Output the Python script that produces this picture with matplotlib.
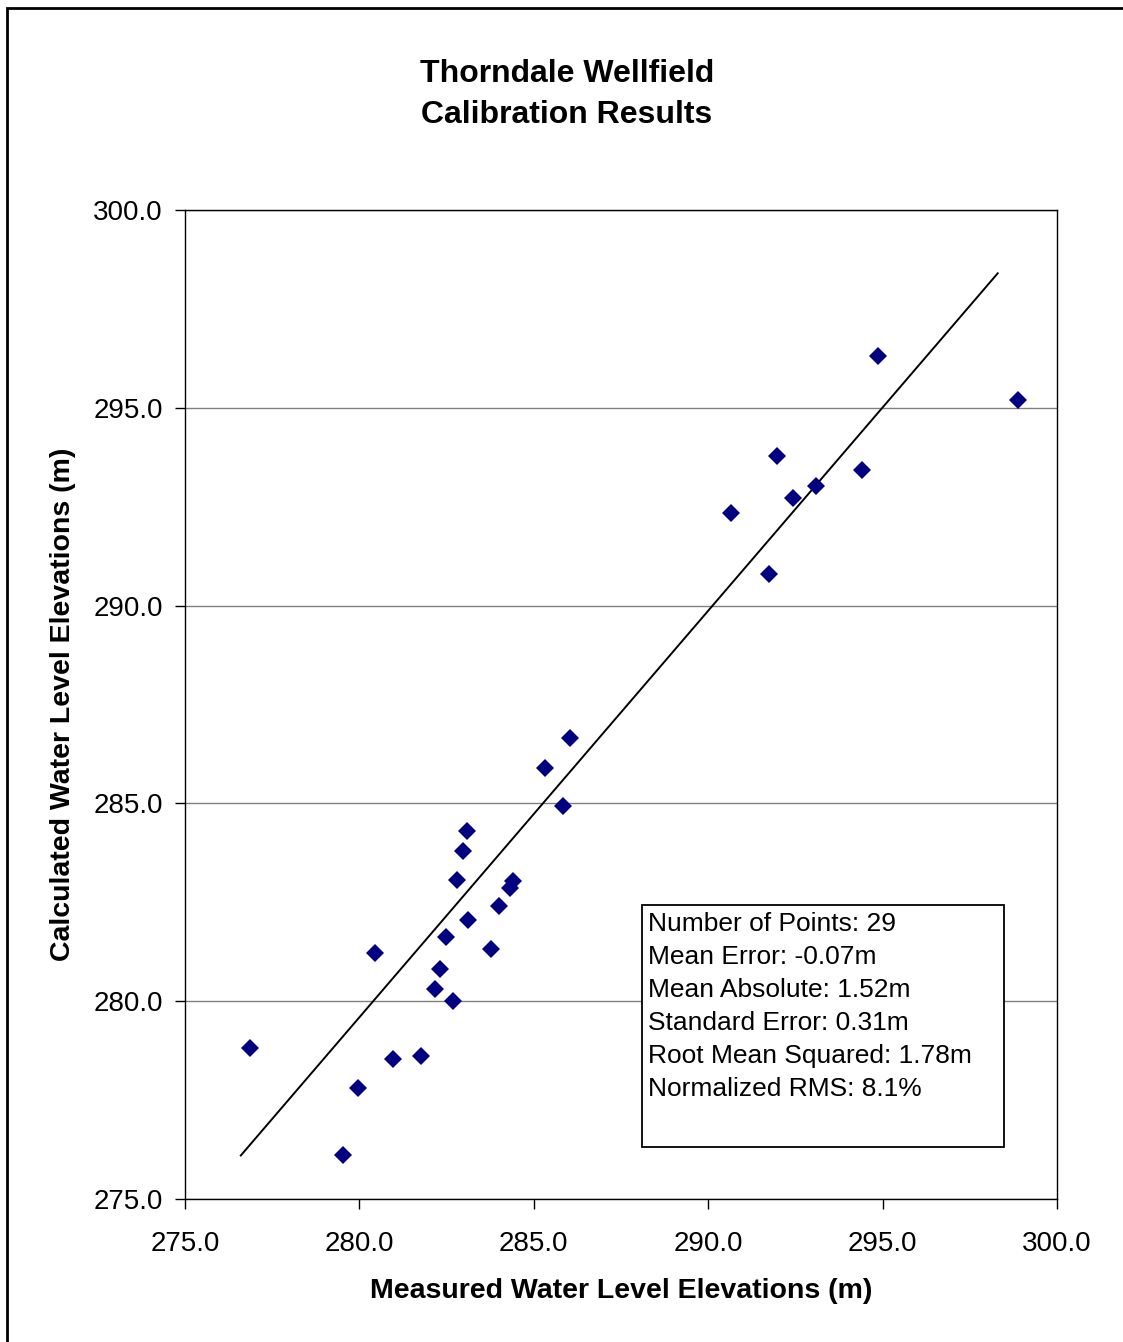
import matplotlib
matplotlib.use("Agg")
import matplotlib.pyplot as plt
from matplotlib.patches import Rectangle

plt.rcParams['font.family'] = ['Liberation Sans', 'DejaVu Sans']

# measured vs calculated heads (m)
measured = [276.86, 279.53, 279.96, 280.45, 280.96, 281.77, 282.17, 282.31, 282.48, 282.68,
            282.80, 282.97, 283.08, 283.11, 283.77, 284.00, 284.32, 284.40, 285.32, 285.84,
            286.04, 290.65, 291.74, 291.97, 292.43, 293.09, 294.41, 294.87, 298.88]
calculated = [278.82, 276.11, 277.81, 281.22, 278.54, 278.61, 280.31, 280.81, 281.62, 280.01,
              283.06, 283.80, 284.30, 282.05, 281.32, 282.41, 282.86, 283.04, 285.89, 284.93,
              286.65, 292.34, 290.80, 293.78, 292.72, 293.02, 293.43, 296.31, 295.20]

# trend line end points
line_x = [276.6, 298.3]
line_y = [276.1, 298.4]

ticks = [275.0, 280.0, 285.0, 290.0, 295.0, 300.0]

stats = ['Number of Points: 29',
         'Mean Error: -0.07m',
         'Mean Absolute: 1.52m',
         'Standard Error: 0.31m',
         'Root Mean Squared: 1.78m',
         'Normalized RMS: 8.1%']

W, H = 1123, 1342
fig = plt.figure(figsize=(W / 100, H / 100), dpi=100)
ax = fig.add_axes([185 / W, 1 - 1199 / H, 872 / W, 989 / H])

ax.set_xlim(275, 300)
ax.set_ylim(275, 300)
ax.set_xticks(ticks)
ax.set_yticks(ticks)
ax.set_xticklabels(['%.1f' % t for t in ticks])
ax.set_yticklabels(['%.1f' % t for t in ticks])
ax.tick_params(direction='out', length=7, width=1, labelsize=20, color='black')
ax.tick_params(axis='x', pad=16)
ax.tick_params(axis='y', pad=9)
ax.yaxis.grid(True, color='#808080', linewidth=1)
ax.set_axisbelow(True)
for s in ax.spines.values():
    s.set_color('black')
    s.set_linewidth(1)

ax.plot(line_x, line_y, color='black', linewidth=1.4, zorder=3)
ax.plot(measured, calculated, ls='none', marker='D', markersize=9.5,
        color='#000080', markeredgewidth=0, zorder=4)

ax.set_xlabel('Measured Water Level Elevations (m)', fontsize=20.5, fontweight='bold', labelpad=15)
ax.set_ylabel('Calculated Water Level Elevations (m)', fontsize=20.5, fontweight='bold', labelpad=12)

fig.text(567 / W, 1 - 74 / H, 'Thorndale Wellfield', ha='center', va='center',
         fontsize=23, fontweight='bold')
fig.text(567 / W, 1 - 115 / H, 'Calibration Results', ha='center', va='center',
         fontsize=23, fontweight='bold')

# stats box
box_x0 = (642 - 185) / 872
box_x1 = (1004 - 185) / 872
box_y0 = (1199 - 1147) / 989
box_y1 = (1199 - 905) / 989
ax.add_patch(Rectangle((box_x0, box_y0), box_x1 - box_x0, box_y1 - box_y0,
                       transform=ax.transAxes, facecolor='white', edgecolor='black',
                       linewidth=1.3, zorder=5))
for i, line in enumerate(stats):
    ax.text((648 - 185) / 872, (1199 - 924 - 33 * i) / 989, line, transform=ax.transAxes,
            ha='left', va='center', fontsize=19, zorder=6)

# outer chart border (only left/top fall inside the image)
fig.patches.append(Rectangle((6.5 / W, -0.02), 1.1, 1 - 7.5 / H + 0.02,
                             transform=fig.transFigure, fill=False,
                             edgecolor='black', linewidth=2))

fig.savefig('out.png', dpi=100)
